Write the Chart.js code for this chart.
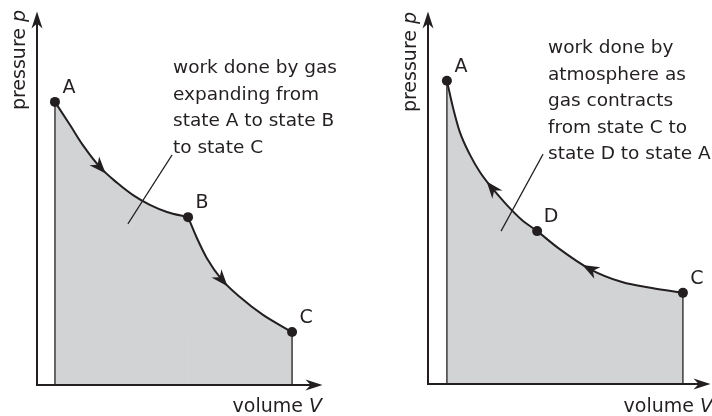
<!DOCTYPE html>
<html>
<head>
<meta charset="utf-8">
<script src="https://cdn.jsdelivr.net/npm/chart.js@4.4.1/dist/chart.umd.min.js"></script>
<style>
html, body { margin: 0; padding: 0; background: #fff; }
#wrap { position: relative; width: 712px; height: 416px; overflow: hidden; }
canvas { position: absolute; top: 0; }
#left { left: 0; }
#right { left: 356px; }
</style>
</head>
<body>
<div id="wrap">
<canvas id="left" width="356" height="416"></canvas>
<canvas id="right" width="356" height="416"></canvas>
</div>
<script>
// left diagram: gas expands A -> B -> C (volume / pressure, arbitrary units 0..10)
var expandVolume   = [0.63, 1.16, 1.61, 2.21, 2.81, 3.37, 3.96, 4.56, 5.30, 5.61, 5.96, 6.49, 7.12, 7.93, 8.95];
var expandPressure = [7.59, 6.97, 6.43, 5.84, 5.42, 5.09, 4.83, 4.64, 4.50, 3.94, 3.40, 2.82, 2.36, 1.88, 1.42];
var expandSegments = [[0, 8], [8, 14]];   // A-B and B-C are separate curves
var expandStateIdx = [0, 8, 14];
var expandStates   = ['A', 'B', 'C'];
var expandArrowIdx = [3, 11];
var expandLeaderV  = [4.74, 3.19];
var expandLeaderP  = [6.17, 4.32];
var expandNote     = ['work done by gas', 'expanding from', 'state A to state B', 'to state C'];

// right diagram: gas contracts C -> D -> A
var contractVolume   = [0.67, 0.89, 1.13, 1.49, 1.84, 2.27, 2.80, 3.33, 3.87, 4.61, 5.74, 6.88, 7.94, 9.04];
var contractPressure = [8.15, 7.42, 6.77, 6.16, 5.70, 5.27, 4.81, 4.41, 4.11, 3.66, 3.09, 2.74, 2.58, 2.45];
var contractSegments = [[0, 13]];
var contractStateIdx = [0, 8, 13];
var contractStates   = ['A', 'D', 'C'];
var contractArrowIdx = [5, 10];
var contractLeaderV  = [4.08, 2.59];
var contractLeaderP  = [6.18, 4.11];
var contractNote     = ['work done by', 'atmosphere as', 'gas contracts', 'from state C to', 'state D to state A'];

var INK = '#231f20';
var SHADE = '#d2d3d5';
var FONT = '19px "DejaVu Sans"';
var FONT_IT = 'italic 19px "DejaVu Sans"';
var FONT_NOTE = '18.5px "DejaVu Sans"';

function toPoints(xs, ys) {
    var pts = [];
    for (var i = 0; i < xs.length; i++) {
        pts.push({ x: xs[i], y: ys[i] });
    }
    return pts;
}

// filled "stealth" arrow head centred on (x, y)
function arrowHead(ctx, x, y, angle, len, half) {
    ctx.save();
    ctx.translate(x, y);
    ctx.rotate(angle);
    ctx.beginPath();
    ctx.moveTo(len * 0.5, 0);
    ctx.lineTo(-len * 0.5, -half);
    ctx.lineTo(-len * 0.2, 0);
    ctx.lineTo(-len * 0.5, half);
    ctx.closePath();
    ctx.fill();
    ctx.restore();
}

function drawMixed(ctx, parts, x, y) {
    parts.forEach(function(p) {
        ctx.font = p[1];
        ctx.fillText(p[0], x, y);
        x += ctx.measureText(p[0]).width;
    });
}

function mixedWidth(ctx, parts) {
    var w = 0;
    parts.forEach(function(p) {
        ctx.font = p[1];
        w += ctx.measureText(p[0]).width;
    });
    return w;
}

var decor = {
    id: 'pvDecor',
    afterDatasetsDraw: function(chart, args, opts) {
        var ctx = chart.ctx;
        var area = chart.chartArea;
        var xs = chart.scales.x, ys = chart.scales.y;
        var d = opts.volume, p = opts.pressure;
        ctx.save();
        ctx.fillStyle = INK;
        ctx.strokeStyle = INK;

        // axes with arrow heads
        ctx.lineWidth = 2;
        ctx.beginPath();
        ctx.moveTo(area.left, area.bottom + 1);
        ctx.lineTo(area.left, area.top + 8);
        ctx.moveTo(area.left - 1, area.bottom);
        ctx.lineTo(area.right - 8, area.bottom);
        ctx.stroke();
        arrowHead(ctx, area.left, area.top + 8, -Math.PI / 2, 17, 5.5);
        arrowHead(ctx, area.right - 8, area.bottom, 0, 17, 5.5);

        // state dots
        opts.stateIdx.forEach(function(i) {
            ctx.beginPath();
            ctx.arc(xs.getPixelForValue(d[i]), ys.getPixelForValue(p[i]), 5, 0, Math.PI * 2);
            ctx.fill();
        });

        // arrows along the curve
        opts.arrows.forEach(function(i) {
            var x0 = xs.getPixelForValue(d[i - 1]), y0 = ys.getPixelForValue(p[i - 1]);
            var x1 = xs.getPixelForValue(d[i + 1]), y1 = ys.getPixelForValue(p[i + 1]);
            var ang = Math.atan2(y1 - y0, x1 - x0);
            if (opts.reverse) ang += Math.PI;
            arrowHead(ctx, xs.getPixelForValue(d[i]), ys.getPixelForValue(p[i]), ang, 17, 6.5);
        });

        // state labels
        ctx.font = FONT;
        ctx.textAlign = 'center';
        ctx.textBaseline = 'middle';
        opts.stateIdx.forEach(function(i, k) {
            ctx.fillText(opts.states[k], xs.getPixelForValue(d[i]) + 14, ys.getPixelForValue(p[i]) - 14);
        });

        // note text
        ctx.font = FONT_NOTE;
        ctx.textAlign = 'left';
        ctx.textBaseline = 'alphabetic';
        opts.note.forEach(function(line, k) {
            ctx.fillText(line, opts.noteX, opts.noteY + k * 26.5);
        });

        // axis titles
        var pt = [['pressure ', FONT], ['p', FONT_IT]];
        var w = mixedWidth(ctx, pt);
        ctx.save();
        ctx.translate(area.left - 12, opts.titleY);
        ctx.rotate(-Math.PI / 2);
        drawMixed(ctx, pt, -w / 2, 0);
        ctx.restore();

        var vt = [['volume ', FONT], ['V', FONT_IT]];
        w = mixedWidth(ctx, vt);
        drawMixed(ctx, vt, opts.volRight - w, 412);
        ctx.restore();
    }
};

function makeDiagram(id, volume, pressure, segments, stateIdx, states, arrows, reverse, leaderV, leaderP, note, pad, noteX, noteY, titleY, volRight) {
    var pts = toPoints(volume, pressure);
    var first = pts[0], last = pts[pts.length - 1];
    var datasets = [
        {
            data: toPoints(leaderV, leaderP),
            showLine: true, borderColor: INK, borderWidth: 1.2, pointRadius: 0, fill: false
        },
        {
            data: [{ x: first.x, y: 0 }, { x: first.x, y: first.y }],
            showLine: true, borderColor: INK, borderWidth: 1.3, pointRadius: 0, fill: false
        },
        {
            data: [{ x: last.x, y: 0 }, { x: last.x, y: last.y }],
            showLine: true, borderColor: INK, borderWidth: 1.3, pointRadius: 0, fill: false
        }
    ];
    segments.forEach(function(s) {
        datasets.push({
            data: pts.slice(s[0], s[1] + 1),
            showLine: true,
            cubicInterpolationMode: 'monotone',
            fill: 'origin',
            backgroundColor: SHADE,
            borderColor: INK,
            borderWidth: 2,
            pointRadius: 0,
            clip: false
        });
    });
    return new Chart(document.getElementById(id), {
        type: 'scatter',
        data: { datasets: datasets },
        options: {
            responsive: false,
            animation: false,
            events: [],
            layout: { padding: pad },
            scales: {
                x: { type: 'linear', min: 0, max: 10, display: false },
                y: { type: 'linear', min: 0, max: 10, display: false }
            },
            plugins: {
                legend: { display: false },
                tooltip: { enabled: false },
                filler: { drawTime: 'beforeDatasetsDraw' },
                pvDecor: {
                    volume: volume, pressure: pressure,
                    stateIdx: stateIdx, states: states,
                    arrows: arrows, reverse: reverse,
                    note: note, noteX: noteX, noteY: noteY,
                    titleY: titleY, volRight: volRight
                }
            }
        },
        plugins: [decor]
    });
}

makeDiagram('left', expandVolume, expandPressure, expandSegments, expandStateIdx, expandStates, expandArrowIdx, false,
    expandLeaderV, expandLeaderP, expandNote,
    { left: 37, right: 34, top: 12, bottom: 31 }, 173, 73, 60, 322);

makeDiagram('right', contractVolume, contractPressure, contractSegments, contractStateIdx, contractStates, contractArrowIdx, true,
    contractLeaderV, contractLeaderP, contractNote,
    { left: 72, right: 2, top: 12, bottom: 32 }, 192, 53, 62, 357);
</script>
</body>
</html>
